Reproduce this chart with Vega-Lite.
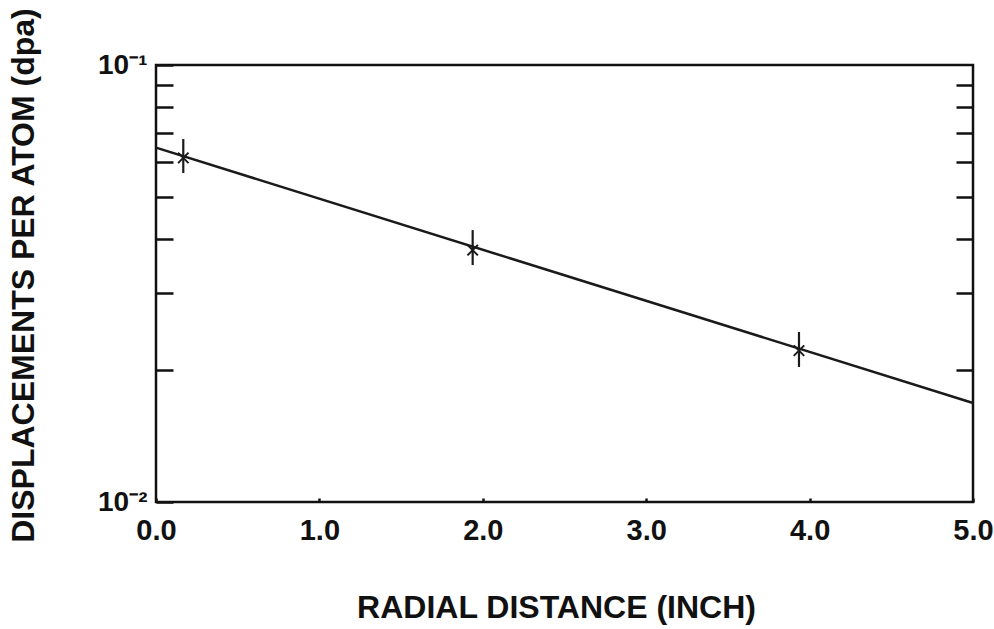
{
  "$schema": "https://vega.github.io/schema/vega-lite/v6.json",
  "width": 817,
  "height": 437,
  "autosize": {"type": "none"},
  "padding": {"left": 156, "top": 65, "right": 21, "bottom": 127},
  "background": "white",
  "config": {
    "view": {"stroke": "#111", "strokeWidth": 2.5},
    "font": "Liberation Sans",
    "axis": {"labelFont": "Liberation Sans", "titleFont": "Liberation Sans", "labelColor": "#111", "titleColor": "#111", "tickColor": "#111", "domain": false, "grid": false}
  },
  "datasets": {
    "curve": [
      {"r": 0.0, "dpa": 0.0647},
      {"r": 5.0, "dpa": 0.01685}
    ],
    "meas": [
      {"r": 0.167, "dpa": 0.0613, "lo": 0.0566, "hi": 0.0677},
      {"r": 1.938, "dpa": 0.0377, "lo": 0.03485, "hi": 0.0419},
      {"r": 3.935, "dpa": 0.0222, "lo": 0.02037, "hi": 0.02449}
    ]
  },
  "layer": [
    {
      "data": {"name": "curve"},
      "mark": {"type": "line", "color": "#1a1a1a", "strokeWidth": 2.5},
      "encoding": {
        "x": {
          "field": "r", "type": "quantitative",
          "scale": {"domain": [0, 5], "nice": false, "zero": false},
          "axis": {
            "orient": "bottom",
            "values": [0, 1, 2, 3, 4, 5],
            "format": ".1f",
            "labelFontSize": 29, "labelFontWeight": "bold",
            "tickSize": -4, "tickWidth": 2.5, "labelPadding": 18,
            "labelFlush": false,
            "title": "RADIAL DISTANCE (INCH)",
            "titleFontSize": 32, "titleFontWeight": "bold",
            "titleX": 400, "titleY": 105, "titleAlign": "center", "titleBaseline": "middle"
          }
        },
        "y": {
          "field": "dpa", "type": "quantitative",
          "scale": {"type": "log", "domain": [0.01, 0.1], "nice": false},
          "axis": {
            "orient": "left",
            "values": [0.01, 0.02, 0.03, 0.04, 0.05, 0.06, 0.07, 0.08, 0.09, 0.1],
            "labelExpr": "abs(datum.value-0.1)<1e-9 ? '10⁻¹' : (abs(datum.value-0.01)<1e-9 ? '10⁻²' : '')",
            "labelFontSize": 28, "labelFontWeight": "bold",
            "tickSize": -17, "tickWidth": 2.5, "labelPadding": 26,
            "labelFlush": false, "labelOverlap": false,
            "title": "DISPLACEMENTS PER ATOM (dpa)",
            "titleFontSize": 32, "titleFontWeight": "bold",
            "titleX": -133, "titleY": 210, "titleAngle": -90, "titleAlign": "center", "titleBaseline": "middle"
          }
        }
      }
    },
    {
      "data": {"name": "meas"},
      "mark": {"type": "rule", "color": "#1a1a1a", "strokeWidth": 2.2},
      "encoding": {
        "x": {"field": "r", "type": "quantitative"},
        "y": {
          "field": "lo", "type": "quantitative",
          "axis": {
            "orient": "right",
            "values": [0.02, 0.03, 0.04, 0.05, 0.06, 0.07, 0.08, 0.09],
            "labels": false, "tickSize": -17, "tickWidth": 2.5, "title": null
          }
        },
        "y2": {"field": "hi"}
      }
    },
    {
      "data": {"name": "meas"},
      "mark": {"type": "point", "shape": "M-1,-1L1,1M-1,1L1,-1", "filled": false, "stroke": "#1a1a1a", "strokeWidth": 2, "size": 110, "opacity": 1},
      "encoding": {
        "x": {"field": "r", "type": "quantitative"},
        "y": {"field": "dpa", "type": "quantitative", "axis": null}
      }
    }
  ],
  "resolve": {"axis": {"y": "independent"}}
}
